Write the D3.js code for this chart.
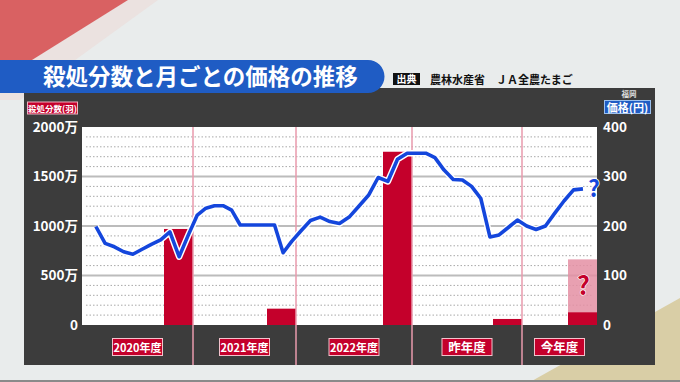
<!DOCTYPE html>
<html>
<head>
<meta charset="utf-8">
<script src="https://cdn.jsdelivr.net/npm/d3@7"></script>
<style>
body { margin: 0; background: #e9ecec; }
svg { display: block; font-family: "Noto Sans CJK JP", "Noto Sans", sans-serif; font-weight: 700; }
</style>
</head>
<body>
<svg id="chart" width="680" height="382"></svg>
<script>
// fiscal years (month index 0 = April 2020)
var periods = ["2020年度", "2021年度", "2022年度", "昨年度", "今年度"],
	periodStart = [0, 12, 24, 36, 48],
	periodEnd = [12, 24, 36, 48, 56],
	culled = [970, 165, 1750, 61, 128],        // 万羽
	culledOutlook = [null, null, null, null, 663],
	countTicks = [0, 500, 1000, 1500, 2000],
	priceTicks = [0, 100, 200, 300, 400];

// monthly egg price (円), first value = May 2020
var firstMonth = 1,
	price = [199, 165, 158, 148, 143, 153, 163, 172, 188, 138, 182,
		222, 236, 241, 241, 232, 202, 202, 202, 202, 202, 146, 169,
		190, 211, 218, 209, 205, 218, 240, 262, 298, 290, 335, 347,
		347, 347, 338, 313, 294, 293, 280, 256, 178, 182, 197, 212,
		200, 193, 200, 226, 251, 273, 275];

var svg = d3.select("#chart"),
	red = "#c4002b",
	blue = "#1446dc",
	plotL = 82, plotR = 597, plotT = 127, plotB = 325;

// background decorations
svg.append("polygon").attr("points", "128,0 158,0 20,100 0,100 0,80").attr("fill", "#ebe2e0");
svg.append("polygon").attr("points", "0,0 128,0 0,80").attr("fill", "#d96162");
svg.append("polygon").attr("points", "530,382 680,298 680,382").attr("fill", "#d9cea6");
svg.append("rect").attr("x", 0).attr("y", 380).attr("width", 680).attr("height", 2).attr("fill", "#8a8a8a");

// dark panel
svg.append("rect").attr("x", 24).attr("y", 88).attr("width", 631).attr("height", 277).attr("fill", "#3c3c3c");

// title bar
svg.append("path")
	.attr("d", "M0,60 H368 A16.5,16.5 0 0 1 368,93 H0 Z")
	.attr("fill", "#1f5cc4");
svg.append("text").attr("x", 43).attr("y", 85).attr("fill", "#fff")
	.attr("font-size", 22.5).text("殺処分数と月ごとの価格の推移");

// source
svg.append("rect").attr("x", 393).attr("y", 73).attr("width", 27).attr("height", 12).attr("fill", "#111");
svg.append("text").attr("x", 406.5).attr("y", 83).attr("text-anchor", "middle").attr("fill", "#fff")
	.attr("font-size", 10).text("出典");
svg.append("text").attr("x", 430).attr("y", 84).attr("fill", "#111")
	.attr("font-size", 11).text("農林水産省　ＪＡ全農たまご");

// scales
var x = d3.scaleLinear()
	.domain([0, 12, 24, 36, 48, 56])
	.range([plotL, 193, 296, 412, 522, plotR]);
var yCount = d3.scaleLinear().domain([0, 2000]).range([plotB, plotT]);
var yPrice = d3.scaleLinear().domain([0, 400]).range([plotB, plotT]);

// plot background and grid
svg.append("rect").attr("x", plotL).attr("y", plotT).attr("width", plotR - plotL)
	.attr("height", plotB - plotT).attr("fill", "#fff");

svg.append("g").selectAll("line")
	.data(yCount.ticks(20).filter(function(d){ return d % 500 !== 0; }))
	.enter().append("line")
	.attr("x1", plotL + 4).attr("x2", plotR - 4)
	.attr("y1", function(d){ return yCount(d); })
	.attr("y2", function(d){ return yCount(d); })
	.attr("stroke", "#a8a8a8").attr("stroke-width", 1).attr("stroke-dasharray", "1.5,2");

svg.append("g").selectAll("line")
	.data(countTicks.filter(function(d){ return d > 0 && d < 2000; }))
	.enter().append("line")
	.attr("x1", plotL).attr("x2", plotR)
	.attr("y1", function(d){ return yCount(d); })
	.attr("y2", function(d){ return yCount(d); })
	.attr("stroke", "#bcbcbc").attr("stroke-width", 2);

// culling bars
var barW = 29;
svg.append("g").selectAll("rect")
	.data(culledOutlook.map(function(v, i){ return {v: v, i: i}; }).filter(function(d){ return d.v !== null; }))
	.enter().append("rect")
	.attr("x", function(d){ return x(periodEnd[d.i]) - barW; })
	.attr("y", function(d){ return yCount(d.v); })
	.attr("width", barW)
	.attr("height", function(d){ return plotB - yCount(d.v); })
	.attr("fill", "#e48fa3").attr("opacity", 0.85);

svg.append("g").selectAll("rect")
	.data(culled)
	.enter().append("rect")
	.attr("x", function(d, i){ return x(periodEnd[i]) - barW; })
	.attr("y", function(d){ return yCount(d); })
	.attr("width", barW)
	.attr("height", function(d){ return plotB - yCount(d); })
	.attr("fill", red);

// fiscal year separators
svg.append("g").selectAll("line")
	.data(periodStart.slice(1))
	.enter().append("line")
	.attr("x1", function(d){ return x(d); }).attr("x2", function(d){ return x(d); })
	.attr("y1", plotT).attr("y2", 365)
	.attr("stroke", "#e99aad").attr("stroke-width", 1.5);

// "?" on outlook bar
culledOutlook.forEach(function(v, i){
	if (v === null) return;
	svg.append("text")
		.attr("x", x(periodEnd[i]) - barW / 2 + 1)
		.attr("y", (yCount(v) + yCount(culled[i])) / 2 + 9)
		.attr("text-anchor", "middle").attr("font-size", 25)
		.attr("fill", red).attr("stroke", "#fff").attr("stroke-width", 1.2)
		.attr("paint-order", "stroke").text("?");
});

// price line
var line = d3.line()
	.x(function(d, i){ return x(firstMonth + i + 0.5); })
	.y(function(d){ return yPrice(d); });

svg.append("path").datum(price).attr("d", line)
	.attr("fill", "none").attr("stroke", "#fff").attr("stroke-width", 6.5)
	.attr("stroke-linejoin", "round");
svg.append("path").datum(price).attr("d", line)
	.attr("fill", "none").attr("stroke", blue).attr("stroke-width", 3.6)
	.attr("stroke-linejoin", "round");

var lastX = x(firstMonth + price.length - 0.5),
	lastY = yPrice(price[price.length - 1]);
svg.append("text").attr("x", lastX + 11).attr("y", lastY + 8)
	.attr("text-anchor", "middle").attr("font-size", 23)
	.attr("fill", blue).attr("stroke", "#fff").attr("stroke-width", 1.5)
	.attr("paint-order", "stroke").text("?");

// axes
var leftAxis = svg.append("g").attr("transform", "translate(" + (plotL - 3) + ",0)")
	.call(d3.axisLeft(yCount).tickValues(countTicks).tickSize(0).tickPadding(1)
		.tickFormat(function(d){ return d === 0 ? "0" : d + "万"; }));
var rightAxis = svg.append("g").attr("transform", "translate(" + (plotR + 5) + ",0)")
	.call(d3.axisRight(yPrice).tickValues(priceTicks).tickSize(0).tickPadding(1));

[leftAxis, rightAxis].forEach(function(a){
	a.select(".domain").remove();
	a.selectAll("text").attr("fill", "#fff").attr("font-size", 13.5)
		.attr("font-family", "'Noto Sans CJK JP', sans-serif").attr("font-weight", 700);
});

// axis titles
svg.append("rect").attr("x", 27.5).attr("y", 102).attr("width", 50).attr("height", 12)
	.attr("fill", red).attr("stroke", "#f0b0c0").attr("stroke-width", 1);
svg.append("text").attr("x", 52.5).attr("y", 111.5).attr("text-anchor", "middle")
	.attr("fill", "#fff").attr("font-size", 8.5).text("殺処分数(羽)");

svg.append("text").attr("x", 629).attr("y", 97).attr("text-anchor", "middle")
	.attr("fill", "#ddd").attr("font-size", 7.5).text("福岡");
svg.append("rect").attr("x", 604.5).attr("y", 100.5).attr("width", 46).attr("height", 13)
	.attr("fill", "#1f5cc4").attr("stroke", "#9bc0ee").attr("stroke-width", 1);
svg.append("text").attr("x", 627.5).attr("y", 111.5).attr("text-anchor", "middle")
	.attr("fill", "#fff").attr("font-size", 11).text("価格(円)");

// fiscal year labels
var labels = svg.append("g").selectAll("g")
	.data(periods)
	.enter().append("g")
	.attr("transform", function(d, i){
		return "translate(" + (x(periodStart[i]) + x(periodEnd[i])) / 2 + ",347)";
	});
labels.append("rect")
	.attr("x", -25).attr("y", -8.5).attr("width", 50).attr("height", 17)
	.attr("fill", red).attr("stroke", "#f3c2cc").attr("stroke-width", 1);
labels.append("text")
	.attr("text-anchor", "middle").attr("y", 4.5)
	.attr("fill", "#fff").attr("font-size", function(d){ return d.length > 3 ? 11 : 12.5; })
	.text(function(d){ return d; });
</script>
</body>
</html>
